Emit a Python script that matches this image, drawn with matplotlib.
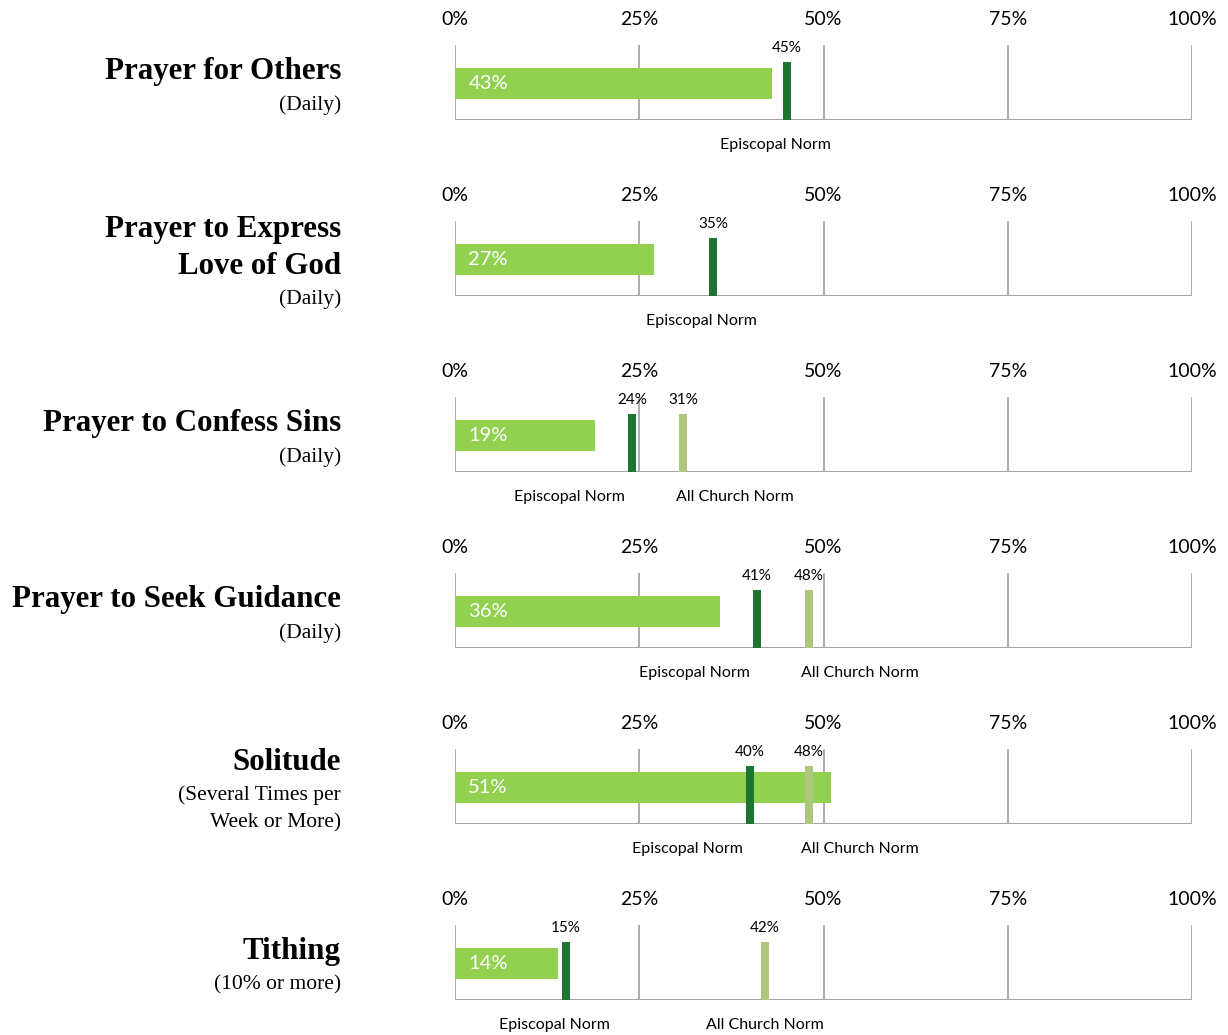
import matplotlib.pyplot as plt

# one panel per practice
titles = [["Prayer for Others"], ["Prayer to Express", "Love of God"],
          ["Prayer to Confess Sins"], ["Prayer to Seek Guidance"],
          ["Solitude"], ["Tithing"]]
subtitles = [["(Daily)"], ["(Daily)"], ["(Daily)"], ["(Daily)"],
             ["(Several Times per", "Week or More)"], ["(10% or more)"]]
values = [43, 27, 19, 36, 51, 14]
episcopal_norm = [45, 35, 24, 41, 40, 15]
all_church_norm = [None, None, 31, 48, 48, 42]
ticks = [0, 25, 50, 75, 100]
tick_labels = ["0%", "25%", "50%", "75%", "100%"]

BAR = "#92D050"
EPIS = "#1E7431"
ALLC = "#ADC77C"
GRID = "#A6A6A6"
SANS = "Lato"
SERIF = "Liberation Serif"

W, H = 1228, 1035
fig = plt.figure(figsize=(W / 100, H / 100), dpi=100)

ax_left, ax_right = 455, 1192
step = 176
ax_h = 75
marker_w = 8 / (ax_right - ax_left) * 100

for i in range(len(values)):
    top = 45 + step * i
    bottom = top + ax_h
    ax = fig.add_axes([ax_left / W, 1 - bottom / H, (ax_right - ax_left) / W, ax_h / H])
    ax.set_xlim(0, 100)
    ax.set_ylim(0, 1)
    for s in ax.spines.values():
        s.set_visible(False)
    ax.axhline(0, color=GRID, lw=1.5, zorder=1)
    for t in ticks:
        ax.axvline(t, color=GRID, lw=1.3, zorder=1)
    ax.xaxis.tick_top()
    ax.set_xticks(ticks)
    ax.set_xticklabels(tick_labels, fontsize=14, family=SANS)
    ax.tick_params(axis="x", length=0, pad=12)
    ax.set_yticks([])

    # main bar
    ax.barh(0.487, values[i], height=0.413, left=0, color=BAR, zorder=2)
    ax.text(1.8, 0.487, f"{values[i]}%", color="white", fontsize=14.5,
            family=SANS, va="center", ha="left", zorder=4)

    # norm markers
    e = episcopal_norm[i]
    a = all_church_norm[i]
    close = a is not None and abs(a - e) < 15
    norms = [(e, EPIS, "Episcopal Norm", -8.5 if close else -1.5)]
    if a is not None:
        norms.append((a, ALLC, "All Church Norm", 7 if close else 0))
    for v, c, name, shift in norms:
        ax.bar(v, 0.773, width=marker_w, bottom=0, color=c, zorder=3)
        ax.text(v, 0.87, f"{v}%", fontsize=11, family=SANS, ha="center",
                va="bottom", zorder=4)
        ax.text(v + shift, -0.33, name, fontsize=11.5, family=SANS,
                ha="center", va="center", clip_on=False)

    # left labels, stacked and centred on the panel
    lines = [(t, True) for t in titles[i]] + [(t, False) for t in subtitles[i]]
    gaps = []
    for k in range(1, len(lines)):
        if lines[k - 1][1] and lines[k][1]:
            gaps.append(37)
        elif lines[k - 1][1]:
            gaps.append(33)
        else:
            gaps.append(27)
    centre = (top + bottom) / 2 + 6
    y = centre - sum(gaps) / 2
    for k, (txt, bold) in enumerate(lines):
        if k > 0:
            y += gaps[k - 1]
        fig.text(341 / W, 1 - y / H, txt, ha="right", va="center",
                 family=SERIF, fontsize=22.3 if bold else 15.5,
                 fontweight="bold" if bold else "normal")

fig.savefig("out.png", dpi=100, facecolor="white")
